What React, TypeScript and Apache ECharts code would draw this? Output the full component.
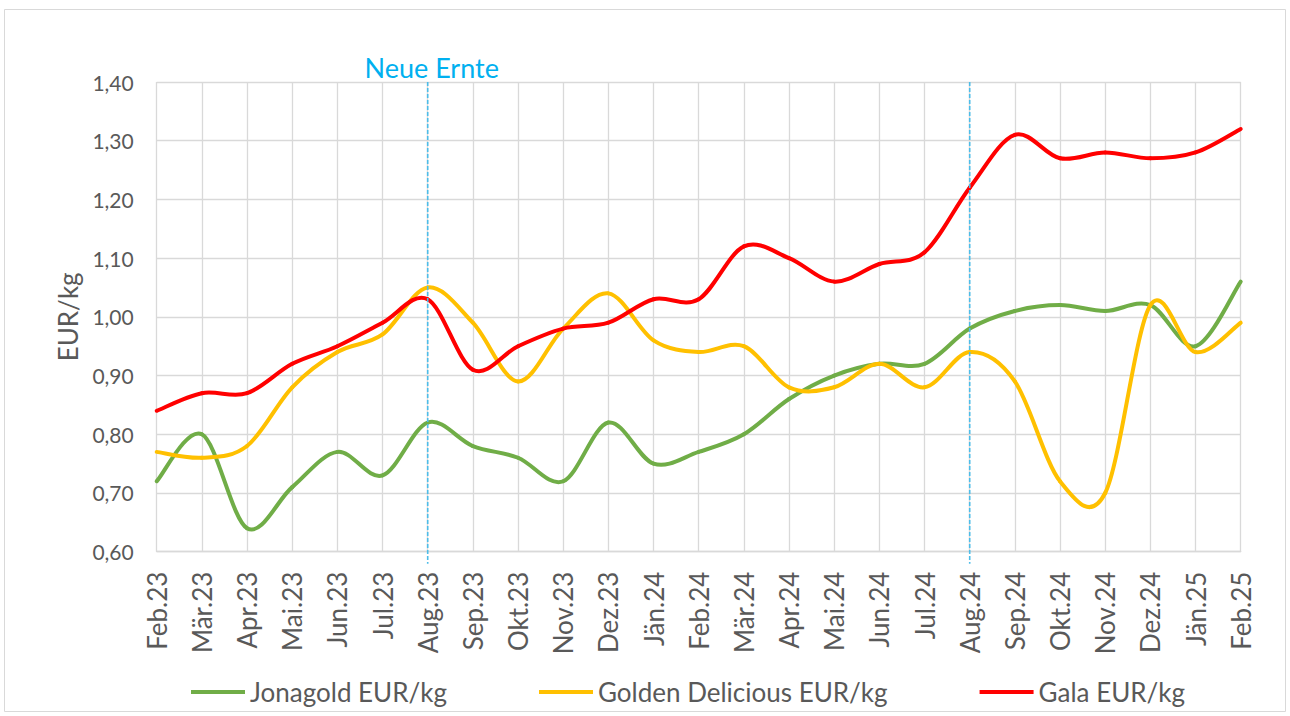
import React, { useEffect, useRef } from "react";
import * as echarts from "echarts";

const categories = [
  "Feb.23", "Mär.23", "Apr.23", "Mai.23", "Jun.23", "Jul.23", "Aug.23", "Sep.23", "Okt.23", "Nov.23", "Dez.23", "Jän.24",
  "Feb.24", "Mär.24", "Apr.24", "Mai.24", "Jun.24", "Jul.24", "Aug.24", "Sep.24", "Okt.24", "Nov.24", "Dez.24", "Jän.25", "Feb.25",
];

const jonagold = [
  0.72, 0.80, 0.64, 0.71, 0.77, 0.73, 0.82, 0.78, 0.76, 0.72, 0.82, 0.75,
  0.77, 0.80, 0.86, 0.90, 0.92, 0.92, 0.98, 1.01, 1.02, 1.01, 1.02, 0.95, 1.06,
];

const golden = [
  0.77, 0.76, 0.78, 0.88, 0.94, 0.97, 1.05, 0.99, 0.89, 0.98, 1.04, 0.96,
  0.94, 0.95, 0.88, 0.88, 0.92, 0.88, 0.94, 0.89, 0.72, 0.70, 1.02, 0.94, 0.99,
];

const gala = [
  0.84, 0.87, 0.87, 0.92, 0.95, 0.99, 1.03, 0.91, 0.95, 0.98, 0.99, 1.03,
  1.03, 1.12, 1.10, 1.06, 1.09, 1.11, 1.22, 1.31, 1.27, 1.28, 1.27, 1.28, 1.32,
];

const seriesNames = ["Jonagold EUR/kg", "Golden Delicious EUR/kg", "Gala EUR/kg"];
const seriesColors = ["#70ad47", "#ffc000", "#ff0000"];
const harvestMonths = ["Aug.23", "Aug.24"];
const harvestLabel = "Neue Ernte";

const FONT = "Lato";
const TEXT = "#595959";
const GRID = "#d9d9d9";
const Y_MIN = 0.6;
const Y_MAX = 1.4;

// Smooth (Catmull-Rom style) line drawn segment by segment through the axes.
function smoothSeries(name: string, values: number[], color: string) {
  const n = values.length;
  return {
    name,
    type: "custom",
    itemStyle: { color },
    data: values.map((v, i) => [i, v]),
    encode: { x: 0, y: 1 },
    clip: false,
    z: 3,
    renderItem: (params: any, api: any) => {
      const i = params.dataIndex;
      if (i >= n - 1) return null;
      const p = (k: number) => {
        const kk = Math.max(0, Math.min(n - 1, k));
        return api.coord([kk, values[kk]]);
      };
      const p0 = p(i - 1);
      const p1 = p(i);
      const p2 = p(i + 1);
      const p3 = p(i + 2);
      const t = 1 / 6;
      return {
        type: "bezierCurve",
        shape: {
          x1: p1[0],
          y1: p1[1],
          x2: p2[0],
          y2: p2[1],
          cpx1: p1[0] + (p2[0] - p0[0]) * t,
          cpy1: p1[1] + (p2[1] - p0[1]) * t,
          cpx2: p2[0] - (p3[0] - p1[0]) * t,
          cpy2: p2[1] - (p3[1] - p1[1]) * t,
        },
        style: { stroke: color, lineWidth: 4, fill: "none", lineCap: "round", lineJoin: "round" },
      };
    },
  };
}

export default function App() {
  const ref = useRef<HTMLDivElement>(null);

  useEffect(() => {
    if (!ref.current) return;
    const chart = echarts.init(ref.current, undefined, { renderer: "svg" });
    chart.setOption({
      animation: false,
      textStyle: { fontFamily: FONT },
      graphic: [
        {
          type: "rect",
          shape: { x: 4.5, y: 9.5, width: 1281, height: 702 },
          style: { fill: "none", stroke: GRID, lineWidth: 1 },
          silent: true,
        },
      ],
      grid: { left: 156.7, right: 49.3, top: 82, bottom: 164.3 },
      legend: {
        left: 186,
        top: 674,
        itemGap: 92,
        itemWidth: 54,
        itemHeight: 4,
        icon: "rect",
        textStyle: { color: TEXT, fontSize: 26, fontFamily: FONT },
        data: seriesNames,
      },
      xAxis: {
        type: "category",
        data: categories,
        boundaryGap: false,
        axisLine: { lineStyle: { color: GRID, width: 1.3 } },
        axisTick: { show: false },
        splitLine: { show: true, lineStyle: { color: GRID, width: 1.3 } },
        axisLabel: {
          rotate: 90,
          interval: 0,
          margin: 20,
          color: TEXT,
          fontSize: 26,
          fontFamily: FONT,
        },
      },
      yAxis: {
        type: "value",
        min: Y_MIN,
        max: Y_MAX,
        interval: 0.1,
        name: "EUR/kg",
        nameLocation: "middle",
        nameGap: 75,
        nameTextStyle: { color: TEXT, fontSize: 26, fontFamily: FONT },
        axisLine: { show: false },
        axisTick: { show: false },
        splitLine: { lineStyle: { color: GRID, width: 1.3 } },
        axisLabel: {
          margin: 23,
          color: TEXT,
          fontSize: 21,
          fontFamily: FONT,
          formatter: (v: number) => v.toFixed(2).replace(".", ","),
        },
      },
      series: [
        smoothSeries(seriesNames[0], jonagold, seriesColors[0]),
        smoothSeries(seriesNames[1], golden, seriesColors[1]),
        smoothSeries(seriesNames[2], gala, seriesColors[2]),
        {
          name: "harvest",
          type: "custom",
          clip: false,
          z: 5,
          silent: true,
          data: harvestMonths.map((m) => [categories.indexOf(m), Y_MAX]),
          encode: { x: 0, y: 1 },
          renderItem: (params: any, api: any) => {
            const idx = api.value(0);
            const top = api.coord([idx, Y_MAX]);
            const bottom = api.coord([idx, Y_MIN]);
            const children: any[] = [
              {
                type: "line",
                shape: { x1: top[0], y1: top[1], x2: bottom[0], y2: bottom[1] + 12 },
                style: { stroke: "#4dbde9", lineWidth: 1.6, lineDash: [4, 2] },
              },
            ];
            if (params.dataIndex === 0) {
              children.push({
                type: "text",
                x: top[0] + 4,
                y: top[1] - 1,
                style: {
                  text: harvestLabel,
                  fill: "#00b0f0",
                  fontSize: 27,
                  fontFamily: FONT,
                  align: "center",
                  verticalAlign: "bottom",
                },
              });
            }
            return { type: "group", children };
          },
        },
      ],
    });
    return () => chart.dispose();
  }, []);

  return (
    <div
      ref={ref}
      style={{ position: "absolute", left: 0, top: 0, width: 1290, height: 716, background: "#fff" }}
    />
  );
}
